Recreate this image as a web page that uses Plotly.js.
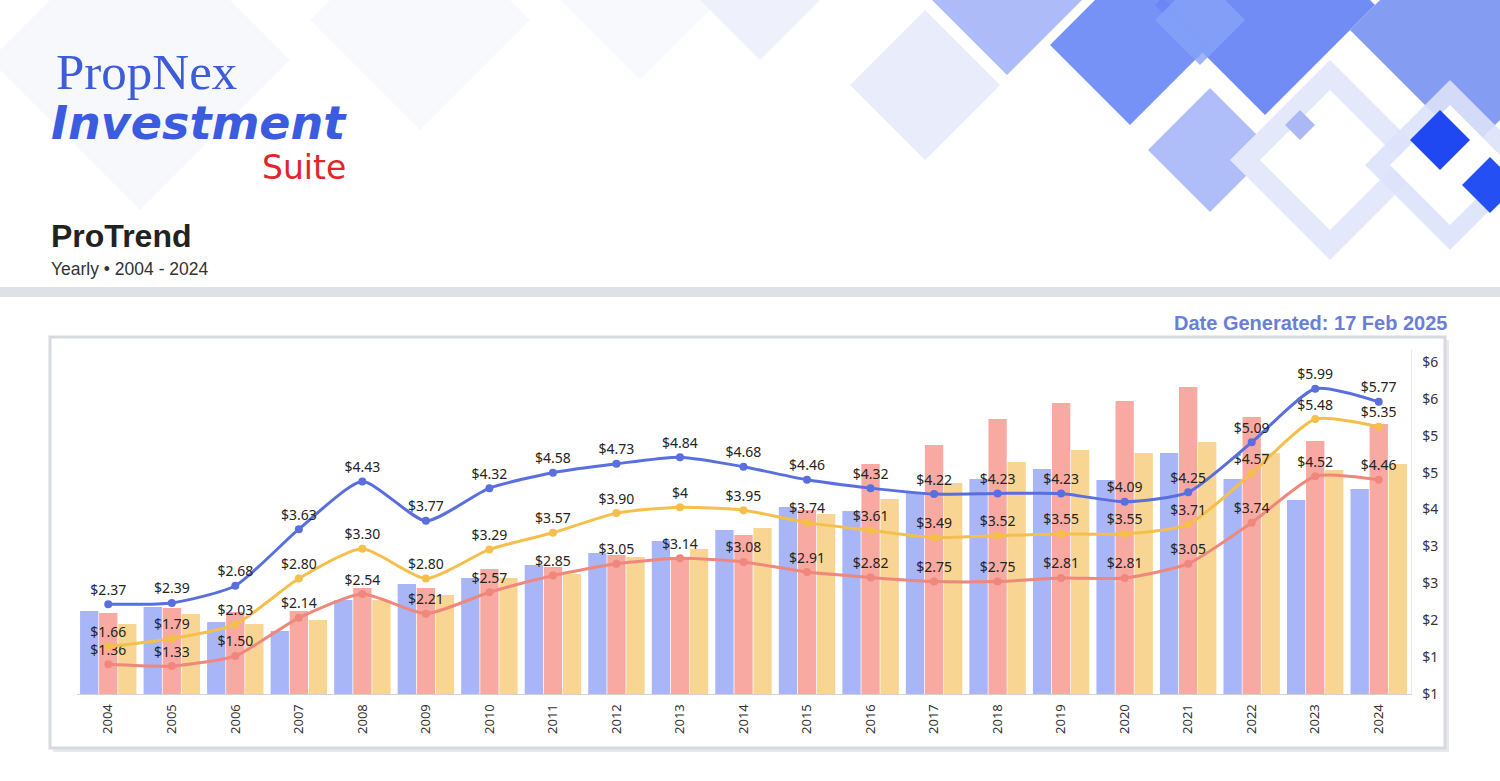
<!DOCTYPE html>
<html>
<head>
<meta charset="utf-8">
<script src="https://cdn.plot.ly/plotly-3.0.1.min.js"></script>
<style>
  html, body { margin: 0; padding: 0; background: #ffffff; }
  #chart { width: 1500px; height: 781px; }
</style>
</head>
<body>
<div id="chart"></div>
<script>
// ---------- DATA ----------
const years = ['2004','2005','2006','2007','2008','2009','2010','2011','2012','2013','2014',
               '2015','2016','2017','2018','2019','2020','2021','2022','2023','2024'];

// bar series (hidden left axis, relative units)
const barBlue   = [83, 87, 72, 63, 94, 110, 116, 129, 141, 153, 164, 187, 183, 201, 215, 225, 214, 241, 215, 194, 205];
const barRed    = [81, 86, 82, 83, 106, 106, 125, 127, 139, 137, 159, 184, 230, 249, 275, 291, 293, 307, 277, 253, 270];
const barYellow = [70, 80, 70, 74, 94, 99, 116, 120, 137, 145, 166, 180, 195, 211, 232, 244, 241, 252, 241, 224, 230];

// line series (right axis, $)
const lineBlue   = [2.37, 2.39, 2.68, 3.63, 4.43, 3.77, 4.32, 4.58, 4.73, 4.84, 4.68, 4.46, 4.32, 4.22, 4.23, 4.23, 4.09, 4.25, 5.09, 5.99, 5.77];
const lineYellow = [1.66, 1.79, 2.03, 2.80, 3.30, 2.80, 3.29, 3.57, 3.90, 4.00, 3.95, 3.74, 3.61, 3.49, 3.52, 3.55, 3.55, 3.71, 4.57, 5.48, 5.35];
const lineRed    = [1.36, 1.33, 1.50, 2.14, 2.54, 2.21, 2.57, 2.85, 3.05, 3.14, 3.08, 2.91, 2.82, 2.75, 2.75, 2.81, 2.81, 3.05, 3.74, 4.52, 4.46];

// right axis ticks
const y2Tick0 = 0.86;
const y2Dtick = 0.62;
const y2Range = [0.86, 6.6416];
const barRange = [0, 344];

// ---------- STYLE ----------
const W = 1500, H = 781;
const C = {
  blueLine: '#5A6FDF', blueBar: '#A8B5F6',
  redLine: '#F0877C',  redBar: '#F8A9A1',
  yelLine: '#F5BF4C',  yelBar: '#F8D592'
};
const FONT = 'Noto Sans, Open Sans, sans-serif';
const px = x => x / W;
const py = y => 1 - y / H;
const fmt = v => Number.isInteger(v) ? '$' + v : '$' + v.toFixed(2);

function diamond(cx, cy, r, color, opacity) {
  const p = `M ${px(cx)},${py(cy - r)} L ${px(cx + r)},${py(cy)} L ${px(cx)},${py(cy + r)} L ${px(cx - r)},${py(cy)} Z`;
  return { type: 'path', xref: 'paper', yref: 'paper', path: p, fillcolor: color,
           opacity: opacity === undefined ? 1 : opacity, line: { width: 0 }, layer: 'below' };
}
function rect(x0, y0, x1, y1, fill, lineColor, lw) {
  return { type: 'rect', xref: 'paper', yref: 'paper', x0: px(x0), x1: px(x1), y0: py(y1), y1: py(y0),
           fillcolor: fill, line: { color: lineColor || fill, width: lw || 0 }, layer: 'below' };
}

const shapes = [
  // faint background diamonds near logo
  diamond(140, 60, 150, '#F7F8FB', 1),
  diamond(420, 20, 110, '#F8F9FC', 1),
  diamond(640, -10, 90, '#F8F9FC', 1),
  // header decoration (top right)
  diamond(760, -30, 90, '#EEF1FC', 1),
  diamond(925, 85, 75, '#E8ECFB', 1),
  diamond(1007, -25, 100, '#A9B8F8', 0.95),
  diamond(1210, 150, 62, '#AFBEF8', 1),
  diamond(1130, 45, 80, '#6F8CF7', 0.95),
  diamond(1265, 5, 110, '#6A86F5', 0.95),
  diamond(1470, 30, 120, '#7E97F2', 0.95),
  diamond(1200, 20, 45, '#86A2F8', 0.8),
  diamond(1330, 160, 100, '#E3E8FB', 1),
  diamond(1330, 160, 70, '#FFFFFF', 1),
  diamond(1300, 125, 15, '#AAB8F5', 1),
  diamond(1450, 165, 85, '#DCE2FA', 0.9),
  diamond(1450, 165, 60, '#FFFFFF', 1),
  diamond(1440, 140, 30, '#1F48F2', 1),
  diamond(1490, 185, 28, '#2450F3', 1),
  // separator band
  rect(0, 287, 1500, 297, '#DEE1E5'),
  // card shadow + card
  rect(53, 340, 1449, 752, '#E6E9ED'),
  rect(50, 337, 1445, 748, '#FFFFFF', '#D6DADF', 3)
];

const annotations = [
  { text: 'PropNex', x: px(55), y: py(72), xanchor: 'left', yanchor: 'middle',
    font: { family: 'Liberation Serif, DejaVu Serif, serif', size: 51, color: '#3E5CD8' } },
  { text: '<i><b>Investment</b></i>', x: px(50), y: py(123), xanchor: 'left', yanchor: 'middle',
    font: { family: 'DejaVu Sans, sans-serif', size: 46, color: '#3C5CE0' } },
  { text: 'Suite', x: px(347), y: py(167), xanchor: 'right', yanchor: 'middle',
    font: { family: 'DejaVu Sans, sans-serif', size: 33, color: '#E0262B' } },
  { text: '<b>ProTrend</b>', x: px(50), y: py(236), xanchor: 'left', yanchor: 'middle',
    font: { family: 'Liberation Sans, Arial, sans-serif', size: 32, color: '#222222' } },
  { text: 'Yearly • 2004 - 2024', x: px(50), y: py(269), xanchor: 'left', yanchor: 'middle',
    font: { family: 'Liberation Sans, Arial, sans-serif', size: 17.5, color: '#333333' } },
  { text: '<b>Date Generated: 17 Feb 2025</b>', x: px(1448), y: py(323), xanchor: 'right', yanchor: 'middle',
    font: { family: 'Liberation Sans, Arial, sans-serif', size: 20, color: '#6A7ED8' } }
].map(a => Object.assign({ xref: 'paper', yref: 'paper', showarrow: false, borderpad: 0 }, a));

// ---------- TRACES ----------
function barTrace(name, vals, color) {
  return { type: 'bar', name: name, x: years, y: vals, marker: { color: color, line: { width: 0 } },
           yaxis: 'y', xaxis: 'x', hoverinfo: 'skip' };
}
function lineTrace(name, vals, color) {
  return { type: 'scatter', mode: 'lines+markers+text', name: name, x: years, y: vals,
           yaxis: 'y2', xaxis: 'x',
           line: { color: color, width: 3, shape: 'spline', smoothing: 0.6 },
           marker: { color: color, size: 8 },
           text: vals.map(fmt), textposition: 'top center',
           textfont: { family: FONT, size: 14, color: '#252423' },
           cliponaxis: false, hoverinfo: 'skip' };
}

const data = [
  barTrace('Blue bars', barBlue, C.blueBar),
  barTrace('Red bars', barRed, C.redBar),
  barTrace('Yellow bars', barYellow, C.yelBar),
  lineTrace('Red line', lineRed, C.redLine),
  lineTrace('Yellow line', lineYellow, C.yelLine),
  lineTrace('Blue line', lineBlue, C.blueLine)
];

const layout = {
  width: W, height: H,
  margin: { l: 0, r: 0, t: 0, b: 0, pad: 0 },
  paper_bgcolor: '#FFFFFF', plot_bgcolor: 'rgba(0,0,0,0)',
  showlegend: false,
  barmode: 'group', bargap: 0.1, bargroupgap: 0.04,
  font: { family: FONT, color: '#333333' },
  xaxis: {
    type: 'category', domain: [76.5 / W, 1410.5 / W], range: [-0.5, years.length - 0.5],
    tickangle: -90, tickfont: { family: FONT, size: 13, color: '#333333' },
    showline: true, linecolor: '#D3D3D3', linewidth: 1,
    showgrid: false, zeroline: false, ticks: '', ticklabelstandoff: 4, automargin: false
  },
  yaxis: {
    domain: [1 - 694 / H, 1 - 350 / H], range: barRange, visible: false, fixedrange: true
  },
  yaxis2: {
    overlaying: 'y', side: 'right', anchor: 'x', range: y2Range,
    tickmode: 'linear', tick0: y2Tick0, dtick: y2Dtick, tickformat: '$.0f',
    tickfont: { family: FONT, size: 14, color: '#333333' },
    showgrid: false, zeroline: false, showline: true, linecolor: '#E6E6E6', linewidth: 1,
    ticks: '', ticklabelstandoff: 8, automargin: false
  },
  shapes: shapes,
  annotations: annotations
};

Plotly.newPlot('chart', data, layout, { displayModeBar: false, staticPlot: true });
</script>
</body>
</html>
